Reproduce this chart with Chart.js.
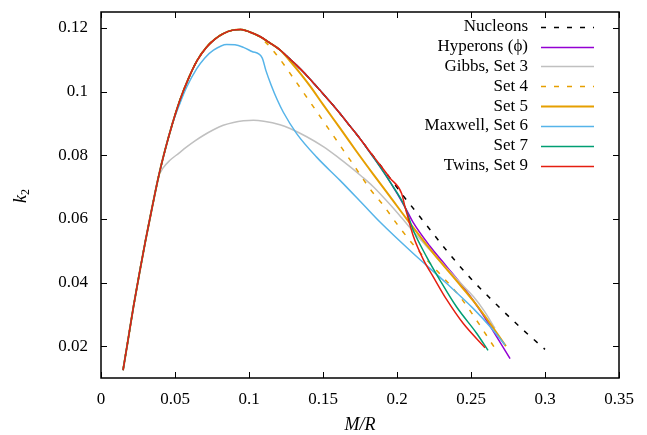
<!DOCTYPE html>
<html>
<head>
<meta charset="utf-8">
<script src="https://cdn.jsdelivr.net/npm/chart.js@4"></script>
<style>
  html, body { margin: 0; padding: 0; background: #fff; }
  #graphe { display: block; }
</style>
</head>
<body>
<canvas id="graphe" width="647" height="435"></canvas>
<script>
// graduations des axes
const xTicks = [0, 0.05, 0.1, 0.15, 0.2, 0.25, 0.3, 0.35];
const yTicks = [0.02, 0.04, 0.06, 0.08, 0.1, 0.12];

// branche commune (montée + début de la descente)
const troncX = [0.0149, 0.018, 0.022, 0.026, 0.030, 0.0345, 0.039, 0.0435, 0.048, 0.0535, 0.059, 0.065, 0.071, 0.077, 0.083, 0.089, 0.0945, 0.1, 0.1074, 0.114, 0.1209, 0.1277, 0.1345, 0.1413, 0.148, 0.1548, 0.1615, 0.168, 0.175];
const troncY = [0.0125, 0.0212, 0.0326, 0.043, 0.053, 0.0635, 0.0735, 0.082, 0.0895, 0.0975, 0.104, 0.1098, 0.1138, 0.1165, 0.1183, 0.1193, 0.1195, 0.1188, 0.1173, 0.1153, 0.1131, 0.1102, 0.1072, 0.1039, 0.1004, 0.0968, 0.0931, 0.0893, 0.0852];

// suite de chaque courbe apres la branche commune
const nucleonsX = [0.1818, 0.1885, 0.1953, 0.2043, 0.212, 0.22, 0.2336, 0.25, 0.2674, 0.285, 0.3];
const nucleonsY = [0.0810, 0.0770, 0.0728, 0.0672, 0.0627, 0.0580, 0.0500, 0.0412, 0.0330, 0.0252, 0.0190];

const hyperonsX = [0.1818, 0.1885, 0.1953, 0.2054, 0.2110, 0.2223, 0.2336, 0.2448, 0.2561, 0.2674, 0.2764];
const hyperonsY = [0.0808, 0.0764, 0.0716, 0.0637, 0.0588, 0.0514, 0.0450, 0.0386, 0.0313, 0.0229, 0.0161];

const gibbsX = [0.0387, 0.0420, 0.0466, 0.0525, 0.0579, 0.0635, 0.0691, 0.0760, 0.0826, 0.0895, 0.0962, 0.1030, 0.1100, 0.1209, 0.1277, 0.1390, 0.1502, 0.1600, 0.1682, 0.1760, 0.1840, 0.1953, 0.2030, 0.2110, 0.2223, 0.2336, 0.2426, 0.2516, 0.2590, 0.2662];
const gibbsY = [0.0730, 0.0760, 0.0784, 0.0806, 0.0826, 0.0845, 0.0862, 0.0880, 0.0894, 0.0903, 0.0908, 0.0910, 0.0907, 0.0896, 0.0884, 0.0858, 0.0827, 0.0794, 0.0764, 0.0734, 0.0701, 0.0645, 0.0604, 0.0560, 0.0502, 0.0445, 0.0400, 0.0356, 0.0310, 0.0256];

const set4X = [0.1050, 0.1108, 0.1187, 0.1299, 0.1401, 0.1502, 0.1615, 0.1716, 0.1818, 0.1907, 0.1998, 0.2133, 0.2268, 0.2426, 0.2561, 0.2662];
const set4Y = [0.1178, 0.1157, 0.1115, 0.1043, 0.0975, 0.0907, 0.0831, 0.0763, 0.0694, 0.0643, 0.0585, 0.0506, 0.0438, 0.0355, 0.0265, 0.0193];

const set5X = [0.1277, 0.1345, 0.1413, 0.1502, 0.1615, 0.1728, 0.1840, 0.1953, 0.2065, 0.2178, 0.2290, 0.2403, 0.2516, 0.2628, 0.2736];
const set5Y = [0.1096, 0.1058, 0.1017, 0.0958, 0.0885, 0.0811, 0.0740, 0.0670, 0.0600, 0.0532, 0.0467, 0.0405, 0.0342, 0.0272, 0.0200];

const maxwellX = [0.0535, 0.0580, 0.0647, 0.0700, 0.0760, 0.0849, 0.0905, 0.0962, 0.1020, 0.1088, 0.1115, 0.1150, 0.1190, 0.1232, 0.1322, 0.1457, 0.1615, 0.1772, 0.1885, 0.2110, 0.2336, 0.2516, 0.2628, 0.2730];
const maxwellY = [0.0965, 0.1015, 0.1072, 0.1105, 0.1130, 0.1148, 0.1147, 0.1139, 0.1126, 0.1107, 0.1065, 0.1020, 0.0975, 0.0935, 0.0868, 0.0794, 0.0721, 0.0645, 0.0590, 0.0491, 0.0397, 0.0318, 0.0262, 0.0204];

const set7X = [0.1818, 0.1885, 0.1953, 0.2054, 0.2110, 0.2201, 0.2291, 0.2403, 0.2539, 0.2615];
const set7Y = [0.0808, 0.0764, 0.0716, 0.0637, 0.0564, 0.0480, 0.0407, 0.0323, 0.0240, 0.0187];

const twinsX = [0.1818, 0.1885, 0.1953, 0.2032, 0.2054, 0.2066, 0.2110, 0.2178, 0.2245, 0.2336, 0.2448, 0.2595];
const twinsY = [0.0810, 0.0770, 0.0728, 0.0679, 0.0638, 0.0618, 0.0546, 0.0472, 0.0418, 0.0346, 0.0271, 0.0195];

// points = branche commune jusqu'a "limite" puis la suite propre
function avecTronc(limite, xs, ys) {
  const debut = troncX.map((x, i) => ({ x: x, y: troncY[i] })).filter(p => p.x < limite);
  return debut.concat(xs.map((x, i) => ({ x: x, y: ys[i] })));
}

const police = "'Liberation Serif', 'DejaVu Serif', serif";

const datasets = [
  { label: 'Nucleons', data: avecTronc(0.18, nucleonsX, nucleonsY), borderColor: '#000000', borderDash: [5, 8], order: 8 },
  { label: 'Hyperons (ϕ)', data: avecTronc(0.18, hyperonsX, hyperonsY), borderColor: '#9400d3', order: 7 },
  { label: 'Gibbs, Set 3', data: avecTronc(0.038, gibbsX, gibbsY), borderColor: '#c0c0c0', order: 6 },
  { label: 'Set 4', data: avecTronc(0.104, set4X, set4Y), borderColor: '#e69f00', borderDash: [5, 8], order: 5 },
  { label: 'Set 5', data: avecTronc(0.125, set5X, set5Y), borderColor: '#e69f00', borderWidth: 2, order: 4 },
  { label: 'Maxwell, Set 6', data: avecTronc(0.051, maxwellX, maxwellY), borderColor: '#56b4e9', order: 3 },
  { label: 'Set 7', data: avecTronc(0.18, set7X, set7Y), borderColor: '#009e73', order: 2 },
  { label: 'Twins, Set 9', data: avecTronc(0.18, twinsX, twinsY), borderColor: '#e51e10', order: 1 }
];
datasets.forEach(d => {
  if (!d.borderWidth) d.borderWidth = 1.5;
  d.fill = false;
});

// cadre + graduations vers l'interieur (style gnuplot)
const cadre = {
  id: 'cadre',
  afterDatasetsDraw(chart) {
    const ctx = chart.ctx, a = chart.chartArea;
    const sx = chart.scales.x, sy = chart.scales.y;
    ctx.save();
    ctx.strokeStyle = '#000';
    ctx.lineWidth = 1;
    ctx.beginPath();
    xTicks.forEach(v => {
      const px = Math.round(sx.getPixelForValue(v)) + 0.5;
      ctx.moveTo(px, a.bottom); ctx.lineTo(px, a.bottom - 6);
      ctx.moveTo(px, a.top); ctx.lineTo(px, a.top + 6);
    });
    yTicks.forEach(v => {
      const py = Math.round(sy.getPixelForValue(v)) + 0.5;
      ctx.moveTo(a.left, py); ctx.lineTo(a.left + 6, py);
      ctx.moveTo(a.right, py); ctx.lineTo(a.right - 6, py);
    });
    ctx.stroke();
    ctx.lineWidth = 1.5;
    ctx.strokeRect(a.left, a.top, a.right - a.left, a.bottom - a.top);
    ctx.restore();
  }
};

// legende a droite, texte aligne a droite puis echantillon de trait
const legende = {
  id: 'legende',
  afterDraw(chart) {
    const ctx = chart.ctx;
    ctx.save();
    ctx.font = '17px ' + police;
    ctx.fillStyle = '#000';
    ctx.textAlign = 'right';
    ctx.textBaseline = 'middle';
    chart.data.datasets.forEach((d, i) => {
      const y = 26.7 + i * 19.85;
      ctx.fillText(d.label, 528, y);
      ctx.strokeStyle = d.borderColor;
      ctx.lineWidth = d.borderWidth;
      ctx.setLineDash(d.borderDash || []);
      ctx.beginPath();
      ctx.moveTo(541, Math.round(y) + 0.5);
      ctx.lineTo(594, Math.round(y) + 0.5);
      ctx.stroke();
    });
    ctx.restore();
  }
};

// titres des axes : k_2 (vertical) et M/R
const titres = {
  id: 'titres',
  afterDraw(chart) {
    const ctx = chart.ctx, a = chart.chartArea;
    ctx.save();
    ctx.fillStyle = '#000';
    ctx.textBaseline = 'alphabetic';
    // M/R
    ctx.font = 'italic 18px ' + police;
    ctx.textAlign = 'center';
    ctx.fillText('M/R', (a.left + a.right) / 2, 430);
    // k_2
    ctx.translate(26, 196);
    ctx.rotate(-Math.PI / 2);
    ctx.textAlign = 'left';
    ctx.font = 'italic 18px ' + police;
    const wk = ctx.measureText('k').width;
    ctx.font = '12px ' + police;
    const w2 = ctx.measureText('2').width;
    const x0 = -(wk + w2) / 2;
    ctx.font = 'italic 18px ' + police;
    ctx.fillText('k', x0, 0);
    ctx.font = '12px ' + police;
    ctx.fillText('2', x0 + wk, 3);
    ctx.restore();
  }
};

new Chart(document.getElementById('graphe'), {
  type: 'line',
  data: { datasets: datasets },
  options: {
    responsive: false,
    animation: false,
    devicePixelRatio: 1,
    layout: { autoPadding: false, padding: { left: 0, right: 28, top: 12, bottom: 0 } },
    plugins: { legend: { display: false }, tooltip: { enabled: false } },
    elements: {
      point: { radius: 0 },
      line: { cubicInterpolationMode: 'monotone' }
    },
    scales: {
      x: {
        type: 'linear',
        min: 0,
        max: 0.35,
        afterBuildTicks: s => { s.ticks = xTicks.map(v => ({ value: v })); },
        afterFit: s => { s.height = 57; },
        grid: { display: false },
        border: { display: false },
        ticks: { padding: 3, color: '#000', font: { family: police, size: 17 }, maxRotation: 0, autoSkip: false, callback: v => String(v) }
      },
      y: {
        type: 'linear',
        min: 0.01,
        max: 0.125,
        afterBuildTicks: s => { s.ticks = yTicks.map(v => ({ value: v })); },
        afterFit: s => { s.width = 101; },
        // traits invisibles : ils servent seulement a decaler les etiquettes
        grid: { display: true, drawOnChartArea: false, drawTicks: true, tickLength: 13, color: 'rgba(0,0,0,0)' },
        border: { display: false },
        ticks: { padding: 0, color: '#000', font: { family: police, size: 17 }, autoSkip: false, callback: v => String(v) }
      }
    }
  },
  plugins: [cadre, legende, titres]
});
</script>
</body>
</html>
